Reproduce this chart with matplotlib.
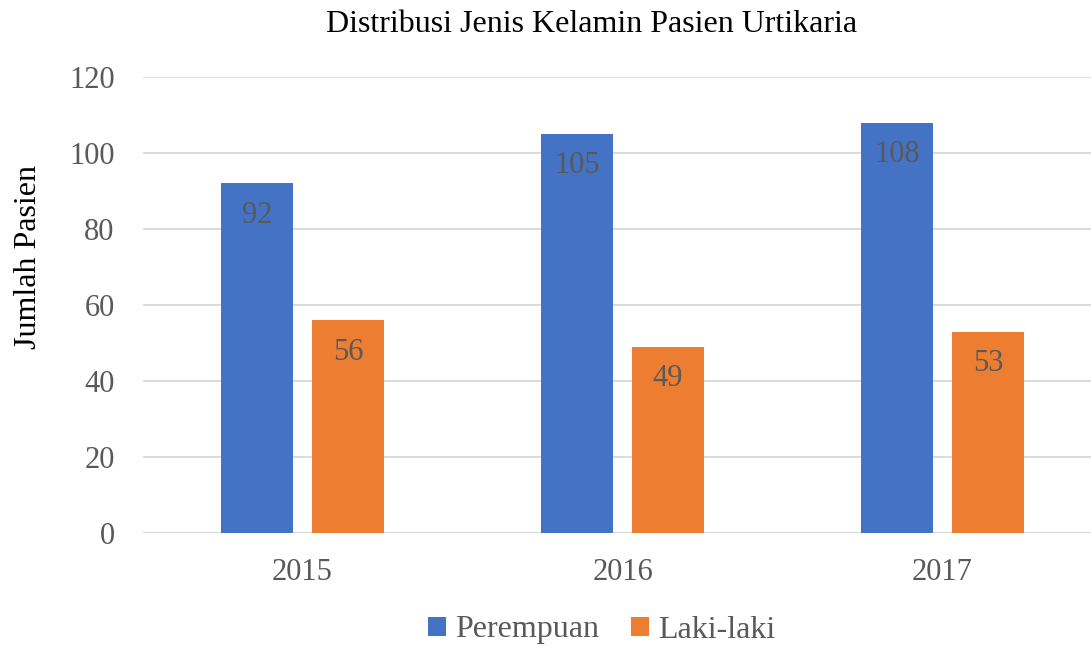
import matplotlib
matplotlib.use("Agg")
import matplotlib.pyplot as plt
import numpy as np

years = ["2015", "2016", "2017"]
perempuan = [92, 105, 108]
laki = [56, 49, 53]
series_names = ["Perempuan", "Laki-laki"]
colors = ["#4472C4", "#ED7D31"]

plt.rcParams['font.family'] = ['Liberation Serif', 'DejaVu Serif']
gray = "#595959"

fig = plt.figure(figsize=(10.91, 6.48), dpi=100)
ax = fig.add_axes([142.5/1091, 1-533/648, 960/1091, (533-77)/648])

x = np.arange(len(years))
w = 0.225
off = 0.142
b1 = ax.bar(x - off, perempuan, w, color=colors[0], label=series_names[0], zorder=3)
b2 = ax.bar(x + off, laki, w, color=colors[1], label=series_names[1], zorder=3)

for bars, vals in ((b1, perempuan), (b2, laki)):
    for r, v in zip(bars, vals):
        ax.annotate(str(v), (r.get_x() + r.get_width()/2, v), xytext=(0, -23),
                    textcoords="offset points", ha="center", va="center",
                    fontsize=22, color=gray, zorder=4)

ax.set_xlim(-0.5, 2.5)
ax.set_ylim(0, 120)
ax.set_yticks(range(0, 121, 20))
ax.set_xticks(x)
ax.set_xticklabels(years)
ax.tick_params(axis='both', length=0, labelsize=22, labelcolor=gray)
ax.tick_params(axis='y', pad=20)
ax.tick_params(axis='x', pad=18)
ax.grid(axis='y', color="#D9D9D9", linewidth=1.3, zorder=0)
for s in ax.spines.values():
    s.set_visible(False)
ax.axhline(0, color="#D9D9D9", linewidth=1.3, zorder=1)

fig.text(28/1091, 1-257/648, "Jumlah Pasien", rotation=90,
         ha="center", va="center", fontsize=23, color="black")
fig.text(592/1091, 1-25/648, "Distribusi Jenis Kelamin Pasien Urtikaria",
         ha="center", va="center", fontsize=23, color="black")

leg = fig.legend(handles=[b1, b2], labels=series_names, loc="center",
                 bbox_to_anchor=(602/1091, 1-630/648), ncol=2, frameon=False,
                 fontsize=23, handlelength=0.55, handleheight=0.55,
                 handletextpad=0.3, columnspacing=1.0)
for t in leg.get_texts():
    t.set_color(gray)

fig.savefig("out.png", dpi=100)
